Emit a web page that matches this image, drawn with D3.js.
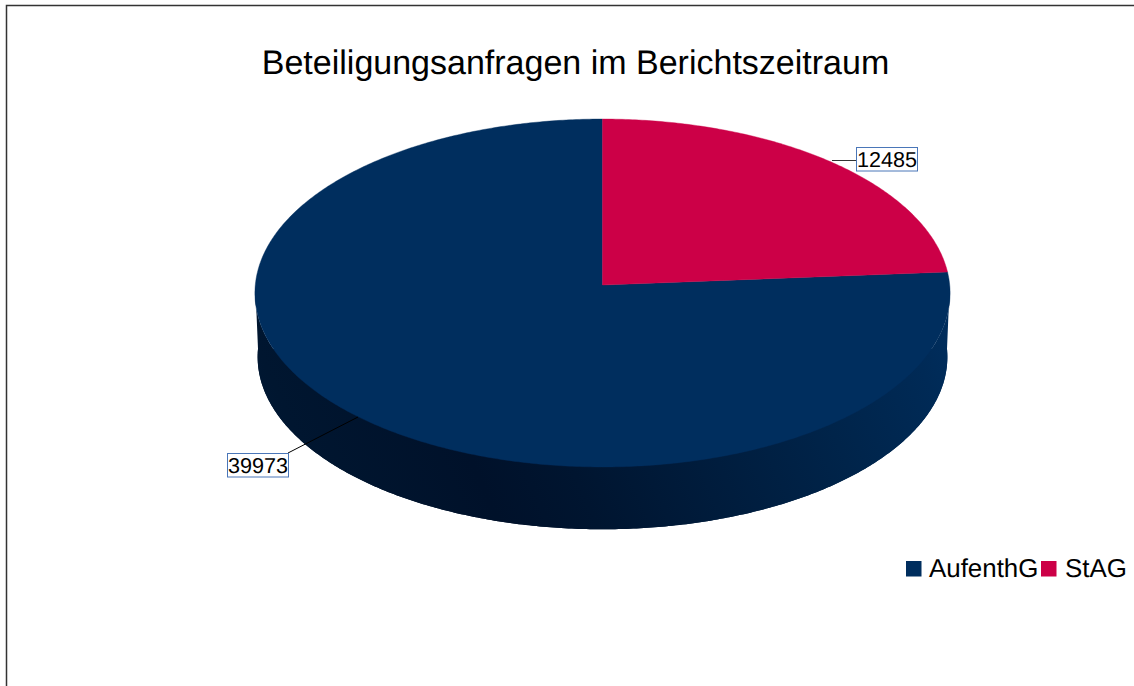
<!DOCTYPE html>
<html><head><meta charset="utf-8">
<script src="https://cdn.jsdelivr.net/npm/d3@7"></script>
<style>html,body{margin:0;padding:0;background:#fff;overflow:hidden}svg{display:block}text{font-family:"Liberation Sans",Arial,sans-serif;fill:#000;text-rendering:geometricPrecision}</style>
</head><body><div id="c"></div>
<script>
const titleText = "Beteiligungsanfragen im Berichtszeitraum";
const categories = ["StAG","AufenthG"];
const values = [12485,39973];
const colors = ["#cc0047","#002e5e"];
const legendOrder = ["AufenthG","StAG"];
const sideStops = [[0,"#001a38"],[0.09,"#001630"],[0.3,"#00112a"],[0.425,"#001530"],[0.78,"#00244a"],[0.9,"#00295456"],[0.93,"#002a56"],[1,"#002e5e"]];

const W=1134,H=686;
const svg=d3.select("#c").append("svg").attr("width",W).attr("height",H);
const defs=svg.append("defs");
const g=defs.append("linearGradient").attr("id","side").attr("gradientUnits","userSpaceOnUse")
  .attr("x1",300).attr("y1",600).attr("x2",950).attr("y2",310);
sideStops.filter(s=>s[1].length===7).forEach(s=>g.append("stop").attr("offset",s[0]).attr("stop-color",s[1]));

svg.append("rect").attr("x",6.5).attr("y",5.5).attr("width",1200).attr("height",800).attr("fill","#fff").attr("stroke","#333").attr("stroke-width",1.5);

// projection of the pie disc
const P=0.046;
function proj(a,r,cx,cy,R,k){
  const x=Math.sin(a)*r,y=-Math.cos(a)*r,w=1-P*y;
  return [cx+R*x/w,cy+k*y/w];
}
const topDisc={cx:602.5,cy:285,R:347.2,k:173.6};
const botDisc={cx:602.5,cy:349,R:344.5,k:172};
const pts=(a0,a1,d)=>{const n=Math.max(2,Math.ceil((a1-a0)/0.01));return d3.range(n+1).map(i=>proj(a0+(a1-a0)*i/n,1,d.cx,d.cy,d.R,d.k));};
const line=d3.line();
const arcs=d3.pie().sort(null).value(d=>d)(values);

// side wall of the disc (front half)
const a0=Math.PI/2,a1=3*Math.PI/2;
const wall=pts(a0,a1,topDisc).concat(pts(a0,a1,botDisc).reverse());
svg.append("path").attr("d",line(wall)+"Z").attr("fill","url(#side)");
svg.append("path").attr("d",line(pts(a0,a1,botDisc))+"Z").attr("fill","url(#side)");

arcs.slice().reverse().forEach(d=>{
  const c=colors[d.index];
  const p=[[topDisc.cx,topDisc.cy]].concat(pts(d.startAngle,d.endAngle,topDisc));
  svg.append("path").attr("d",line(p)+"Z").attr("fill",c).attr("stroke",c).attr("stroke-width",0.4);
});

// leader lines
svg.append("line").attr("x1",832).attr("y1",160.5).attr("x2",857).attr("y2",160.5).attr("stroke","#333").attr("stroke-width",1);
svg.append("line").attr("x1",358).attr("y1",417).attr("x2",288).attr("y2",453).attr("stroke","#000").attr("stroke-width",1);

// data labels
const labels=[{t:values[0],x:856.5,y:147.5,w:61,h:23.5},{t:values[1],x:227.5,y:453.5,w:61,h:23.5}];
labels.forEach(l=>{
  svg.append("rect").attr("x",l.x).attr("y",l.y).attr("width",l.w).attr("height",l.h).attr("fill","#fff").attr("stroke","#4a76b8").attr("stroke-width",1);
  svg.append("text").attr("x",l.x+l.w/2).attr("y",l.y+l.h/2+7.8).attr("text-anchor","middle").attr("font-size",21.6).text(l.t);
});

svg.append("text").attr("x",575.5).attr("y",74).attr("text-anchor","middle").attr("font-size",34).text(titleText);

// legend
const legendX={AufenthG:[906,929],StAG:[1041,1065]};
legendOrder.forEach(n=>{
  const i=categories.indexOf(n);
  svg.append("rect").attr("x",legendX[n][0]).attr("y",561).attr("width",15.5).attr("height",15.5).attr("fill",colors[i]);
  svg.append("text").attr("x",legendX[n][1]).attr("y",577).attr("font-size",25.9).text(n);
});
</script></body></html>
